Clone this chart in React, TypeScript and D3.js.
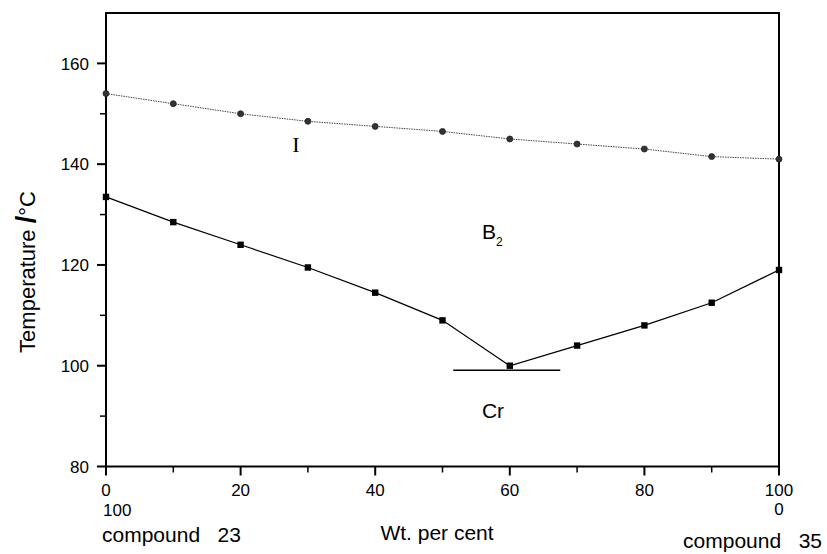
import React from "react";
import * as d3 from "d3";

const compositions = [0, 10, 20, 30, 40, 50, 60, 70, 80, 90, 100];
const isotropicTemps = [154, 152, 150, 148.5, 147.5, 146.5, 145, 144, 143, 141.5, 141];
const b2Temps = [133.5, 128.5, 124, 119.5, 114.5, 109, 100, 104, 108, 112.5, 119];
const eutecticLine = { x0: 51.6, x1: 67.5, y: 99.1 };
const xMajorTicks = [0, 20, 40, 60, 80, 100];
const xMinorTicks = [10, 30, 50, 70, 90];
const yMajorTicks = [80, 100, 120, 140, 160];
const yMinorTicks = [90, 110, 130, 150];

const W = 827;
const H = 554;
const FONT = "'Liberation Sans', Arial, Helvetica, sans-serif";

export default function App() {
  const x = d3.scaleLinear().domain([0, 100]).range([106, 779]);
  const y = d3.scaleLinear().domain([80, 170]).range([466.5, 13]);

  const upper = isotropicTemps.map((t, i) => [compositions[i], t] as [number, number]);
  const lower = b2Temps.map((t, i) => [compositions[i], t] as [number, number]);
  const line = d3
    .line<[number, number]>()
    .x((d) => x(d[0]))
    .y((d) => y(d[1]));

  const left = x(0);
  const right = x(100);
  const top = y(170);
  const bottom = y(80);

  return (
    <svg
      width={W}
      height={H}
      viewBox={`0 0 ${W} ${H}`}
      style={{ position: "absolute", left: 0, top: 0, background: "#fff" }}
      fontFamily={FONT}
    >
      {/* frame */}
      <rect x={left} y={top} width={right - left} height={bottom - top} fill="none" stroke="#000" strokeWidth={2} />

      {/* y ticks */}
      {yMajorTicks.map((t) => (
        <g key={"ym" + t}>
          <line x1={left - 9} x2={left} y1={y(t)} y2={y(t)} stroke="#000" strokeWidth={2} />
          <text x={left - 17} y={y(t)} dy="0.36em" textAnchor="end" fontSize={17}>
            {t}
          </text>
        </g>
      ))}
      {yMinorTicks.map((t) => (
        <line key={"yn" + t} x1={left - 6} x2={left} y1={y(t)} y2={y(t)} stroke="#000" strokeWidth={1.5} />
      ))}

      {/* x ticks */}
      {xMajorTicks.map((t) => (
        <g key={"xm" + t}>
          <line x1={x(t)} x2={x(t)} y1={bottom} y2={bottom + 9} stroke="#000" strokeWidth={2} />
          <text x={x(t)} y={496} textAnchor="middle" fontSize={17}>
            {t}
          </text>
        </g>
      ))}
      {xMinorTicks.map((t) => (
        <line key={"xn" + t} x1={x(t)} x2={x(t)} y1={bottom} y2={bottom + 6} stroke="#000" strokeWidth={1.5} />
      ))}

      {/* second composition scale */}
      <text x={x(0) - 3} y={516} textAnchor="start" fontSize={17}>
        {100}
      </text>
      <text x={x(100)} y={515} textAnchor="middle" fontSize={17}>
        {0}
      </text>

      {/* axis titles */}
      <text x={102} y={542} fontSize={21} style={{ whiteSpace: "pre" }}>
        {"compound   23"}
      </text>
      <text x={437} y={540} fontSize={21} textAnchor="middle">
        Wt. per cent
      </text>
      <text x={822} y={548} fontSize={21} textAnchor="end" style={{ whiteSpace: "pre" }}>
        {"compound   35"}
      </text>
      <text transform="translate(35,272) rotate(-90)" fontSize={22} textAnchor="middle">
        Temperature <tspan fontWeight="bold" fontSize={27}>/</tspan>°C
      </text>

      {/* isotropic line */}
      <path d={line(upper) || ""} fill="none" stroke="#444" strokeWidth={1} strokeDasharray="1.5,1" />
      {upper.map((d, i) => (
        <circle key={"c" + i} cx={x(d[0])} cy={y(d[1])} r={3} fill="#333" stroke="#222" strokeWidth={0.8} />
      ))}

      {/* B2 line */}
      <path d={line(lower) || ""} fill="none" stroke="#000" strokeWidth={1.2} />
      {lower.map((d, i) => (
        <rect key={"s" + i} x={x(d[0]) - 3.2} y={y(d[1]) - 3.2} width={6.4} height={6.4} fill="#000" />
      ))}

      {/* eutectic line */}
      <line
        x1={x(eutecticLine.x0)}
        x2={x(eutecticLine.x1)}
        y1={y(eutecticLine.y)}
        y2={y(eutecticLine.y)}
        stroke="#000"
        strokeWidth={1.5}
      />

      {/* phase labels */}
      <text x={296} y={152} textAnchor="middle" fontSize={22} fontFamily="'Liberation Serif', 'Times New Roman', serif">
        I
      </text>
      <text x={482} y={239} fontSize={21}>
        B
        <tspan fontSize={12} dy={7}>
          2
        </tspan>
      </text>
      <text x={493} y={418} textAnchor="middle" fontSize={21}>
        Cr
      </text>
    </svg>
  );
}
